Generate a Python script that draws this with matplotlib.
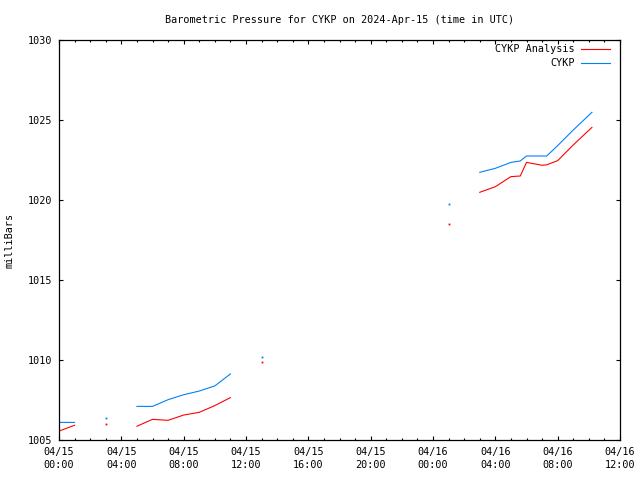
import numpy as np
import matplotlib
matplotlib.use("Agg")
import matplotlib.pyplot as plt
from matplotlib.lines import Line2D
from matplotlib.ticker import MultipleLocator, FixedLocator

nan = np.nan
# hours since 2024-04-15 00:00 UTC
hours = [0, 1, 2, 3, 4, 5, 6, 7, 8, 9, 10, 11, 12, 13, 14,
         25, 26, 27, 28, 29, 29.6, 30, 31, 31.3, 32, 33, 34.2]
cykp = [1006.1, 1006.1, nan, 1006.35, nan, 1007.1, 1007.1, 1007.52, 1007.83,
        1008.06, 1008.38, 1009.13, nan, 1010.17, nan,
        1019.73, nan, 1021.73, 1021.98, 1022.35, 1022.44, 1022.75, 1022.75,
        1022.75, 1023.4, 1024.375, 1025.48]
analysis = [1005.56, 1005.92, nan, 1005.98, nan, 1005.86, 1006.29, 1006.23, 1006.56,
            1006.73, 1007.15, 1007.65, nan, 1009.86, nan,
            1018.48, nan, 1020.48, 1020.83, 1021.46, 1021.5, 1022.35, 1022.17,
            1022.2, 1022.46, 1023.44, 1024.54]

tick_hours = [0, 4, 8, 12, 16, 20, 24, 28, 32, 36]
tick_labels = ["04/15\n00:00", "04/15\n04:00", "04/15\n08:00", "04/15\n12:00",
               "04/15\n16:00", "04/15\n20:00", "04/16\n00:00", "04/16\n04:00",
               "04/16\n08:00", "04/16\n12:00"]
y_ticks = [1005, 1010, 1015, 1020, 1025, 1030]

FONT = "DejaVu Sans Mono"
FS = 7.3
RED = "#ff0000"
BLUE = "#0080ff"


def isolated(values):
    v = np.asarray(values, dtype=float)
    ok = ~np.isnan(v)
    prev = np.r_[False, ok[:-1]]
    nxt = np.r_[ok[1:], False]
    return ok & ~prev & ~nxt


fig = plt.figure(figsize=(6.4, 4.8), dpi=100)
L, R, T, B = 59, 620, 40, 440
ax = fig.add_axes([L / 640, 1 - B / 480, (R - L) / 640, (B - T) / 480])

h = np.asarray(hours, dtype=float)
for series, color in [(analysis, RED), (cykp, BLUE)]:
    ax.plot(hours, series, color=color, lw=0.8)
    m = isolated(series)
    ax.plot(h[m], np.asarray(series)[m], ls="none", marker="s", ms=1.3, mew=0, color=color)

ax.set_xlim(0, 36)
ax.set_ylim(1005, 1030)
ax.xaxis.set_major_locator(FixedLocator(tick_hours))
ax.set_xticklabels(tick_labels, fontfamily=FONT, fontsize=FS, linespacing=1.35)
ax.xaxis.set_minor_locator(MultipleLocator(1))
ax.set_yticks(y_ticks)
ax.set_yticklabels([str(v) for v in y_ticks], fontfamily=FONT, fontsize=FS)

ax.tick_params(which="both", direction="in", top=True, right=True, color="black")
ax.tick_params(which="major", length=3.2, width=0.8)
ax.tick_params(which="minor", length=1.6, width=0.8)
ax.tick_params(axis="x", which="major", pad=5)
ax.tick_params(axis="y", which="major", pad=5)
for s in ax.spines.values():
    s.set_linewidth(0.9)

fig.text(339.5 / 640, 1 - 20 / 480, "Barometric Pressure for CYKP on 2024-Apr-15 (time in UTC)",
         ha="center", va="center", fontfamily=FONT, fontsize=FS)
fig.text(10 / 640, 1 - 240 / 480, "milliBars", rotation=90, ha="center", va="center",
         fontfamily=FONT, fontsize=FS)

# legend
for label, color, y in [("CYKP Analysis", RED, 49), ("CYKP", BLUE, 62.5)]:
    fig.text(575 / 640, 1 - y / 480, label, ha="right", va="center",
             fontfamily=FONT, fontsize=FS)
    fig.add_artist(Line2D([581 / 640, 610 / 640], [1 - y / 480, 1 - y / 480],
                          color=color, lw=0.8, transform=fig.transFigure))

fig.savefig("out.png", dpi=100)
